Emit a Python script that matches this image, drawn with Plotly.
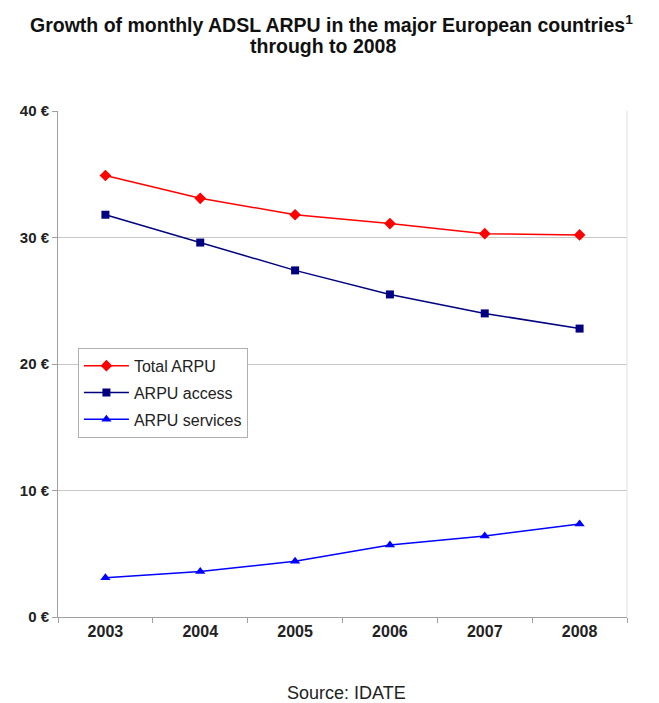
import plotly.graph_objects as go

years = ["2003", "2004", "2005", "2006", "2007", "2008"]
total_arpu = [34.9, 33.1, 31.8, 31.1, 30.3, 30.2]
arpu_access = [31.8, 29.6, 27.4, 25.5, 24.0, 22.8]
arpu_services = [3.1, 3.6, 4.4, 5.7, 6.4, 7.35]
y_ticks = [0, 10, 20, 30, 40]
y_tick_labels = ["0 €", "10 €", "20 €", "30 €", "40 €"]

FONT = "Liberation Sans, Arial, sans-serif"

fig = go.Figure()
fig.add_trace(go.Scatter(x=years, y=total_arpu, name="Total ARPU", mode="lines+markers",
                         line=dict(color="#ff0000", width=1.5),
                         marker=dict(symbol="diamond", size=9, color="#ff0000"),
                         legendgroup="a"))
fig.add_trace(go.Scatter(x=years, y=arpu_access, name="ARPU access", mode="lines+markers",
                         line=dict(color="#000080", width=1.5),
                         marker=dict(symbol="square", size=8, color="#000080"),
                         legendgroup="b"))
fig.add_trace(go.Scatter(x=years, y=arpu_services, name="ARPU services", mode="lines+markers",
                         line=dict(color="#0000ff", width=1.5),
                         marker=dict(symbol="triangle-up", size=9, color="#0000ff"),
                         legendgroup="c"))

fig.update_layout(
    width=659, height=703,
    margin=dict(l=58, r=32, t=111, b=86),
    paper_bgcolor="white", plot_bgcolor="white",
    font=dict(family=FONT, color="#000000"),
    xaxis=dict(type="category", range=[-0.5, 5.5], showgrid=False,
               showline=True, linecolor="#a0a0a0", linewidth=1,
               ticks="outside", tickson="boundaries", ticklen=5, tickcolor="#a0a0a0",
               tickfont=dict(size=16, family=FONT, color="#222222"),
               tickprefix="<b>", ticksuffix="</b>"),
    yaxis=dict(range=[0, 40], tickvals=y_ticks,
               ticktext=["<b>" + t + "</b>" for t in y_tick_labels],
               showgrid=True, gridcolor="#c8c8c8", gridwidth=1,
               showline=True, linecolor="#a0a0a0", linewidth=1,
               ticks="outside", ticklen=5, tickcolor="#a0a0a0",
               tickfont=dict(size=15, family=FONT, color="#222222"),
               zeroline=False),
    legend=dict(x=0.035, y=0.532, xanchor="left", yanchor="top",
                bgcolor="white", bordercolor="#b0b0b0", borderwidth=1,
                font=dict(size=16, family=FONT, color="#222222"),
                tracegroupgap=3, itemwidth=45, traceorder="grouped"),
    showlegend=True,
)

# light right border of plot area
fig.add_shape(type="line", xref="paper", yref="paper", x0=1, x1=1, y0=0, y1=1,
              line=dict(color="#e0e0e0", width=1))

fig.add_annotation(text="<b>Growth of monthly ADSL ARPU in the major European countries<sup>1</sup></b>",
                   xref="paper", yref="paper", x=(331 - 58) / 569, y=(617 - 23.5) / 506,
                   xanchor="center", yanchor="middle", showarrow=False,
                   font=dict(size=19.5, family=FONT, color="#111111"))
fig.add_annotation(text="<b>through to 2008</b>",
                   xref="paper", yref="paper", x=(323 - 58) / 569, y=(617 - 46.5) / 506,
                   xanchor="center", yanchor="middle", showarrow=False,
                   font=dict(size=19.5, family=FONT, color="#111111"))

fig.add_annotation(text="Source: IDATE", xref="paper", yref="paper",
                   x=(346 - 58) / 569, y=-(693 - 617) / 506, xanchor="center", yanchor="middle",
                   showarrow=False, font=dict(size=18, family=FONT, color="#222222"))

fig.write_html("out.html")
